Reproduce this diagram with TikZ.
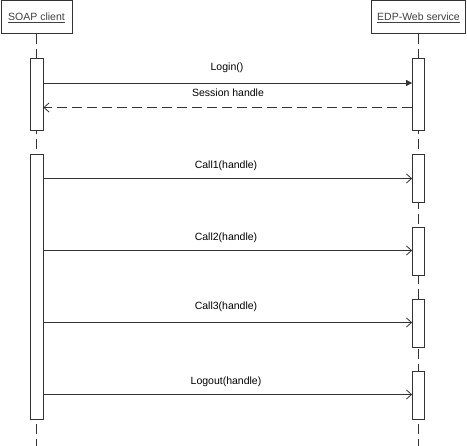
\documentclass[tikz,border=0pt]{standalone}
\usepackage{fontspec}
\setmainfont{Liberation Sans}
\usetikzlibrary{arrows.meta}
\begin{document}
\begin{tikzpicture}[x=1pt,y=-1pt,
  every node/.style={font=\fontsize{10.5}{12}\selectfont},
  header/.style={draw=black!80,line width=1pt,fill=white,inner sep=0pt,text=black!75},
  lifeline/.style={draw=black!80,line width=0.8pt,dash pattern=on 10pt off 5pt},
  bar/.style={draw=black!80,line width=0.8pt,fill=white,inner sep=0pt,minimum width=12pt},
  msg/.style={draw=black!80,line width=0.8pt,-{Straight Barb[length=5pt,width=9pt]}},
  syncmsg/.style={draw=black!80,line width=0.8pt,-{Triangle[length=6pt,width=6pt]}},
  ret/.style={draw=black!80,line width=0.8pt,dash pattern=on 10pt off 5pt,-{Straight Barb[length=5pt,width=9pt]}},
  lbl/.style={inner sep=1pt}]
\useasboundingbox (0,0) rectangle (467,446);
% headers
\node[header,minimum width=71pt,minimum height=33pt] (soap) at (36.5,17.5) {\underline{SOAP client}};
\node[header,minimum width=94pt,minimum height=33pt] (edp) at (418.5,17.5) {\underline{EDP-Web service}};
\coordinate (soapend) at (36.5,446);
\coordinate (edpend) at (418.5,446);
\draw[lifeline] (soap.south) -- (soapend);
\draw[lifeline] (edp.south) -- (edpend);
% activation bars
\node[bar,minimum width=13pt,minimum height=72pt] (s1) at (36.5,94) {};
\node[bar,minimum width=13pt,minimum height=265pt] (s2) at (36.5,286.5) {};
\node[bar,minimum height=72pt] (e1) at (418.5,94) {};
\node[bar,minimum height=48pt] (e2) at (418.5,178) {};
\node[bar,minimum height=48pt] (e3) at (418.5,251) {};
\node[bar,minimum height=48pt] (e4) at (418.5,323) {};
\node[bar,minimum height=48pt] (e5) at (418.5,395) {};
% message levels
\coordinate (y1) at (0,83);
\coordinate (y2) at (0,107.5);
\coordinate (y3) at (0,178.5);
\coordinate (y4) at (0,250.5);
\coordinate (y5) at (0,322.5);
\coordinate (y6) at (0,394.5);
\draw[syncmsg] (s1.east |- y1) -- (e1.west |- y1);
\draw[ret] (e1.west |- y2) -- (s1.east |- y2);
\draw[msg] (s2.east |- y3) -- (e2.west |- y3);
\draw[msg] (s2.east |- y4) -- (e3.west |- y4);
\draw[msg] (s2.east |- y5) -- (e4.west |- y5);
\draw[msg] (s2.east |- y6) -- (e5.west |- y6);
% labels
\node[lbl] (t1) at (227,67.5) {Login()};
\node[lbl] (t2) at (228,93) {Session handle};
\node[lbl] (t3) at (226,166) {Call1(handle)};
\node[lbl] (t4) at (226,238) {Call2(handle)};
\node[lbl] (t5) at (226,307) {Call3(handle)};
\node[lbl] (t6) at (226,382) {Logout(handle)};
\end{tikzpicture}
\end{document}
